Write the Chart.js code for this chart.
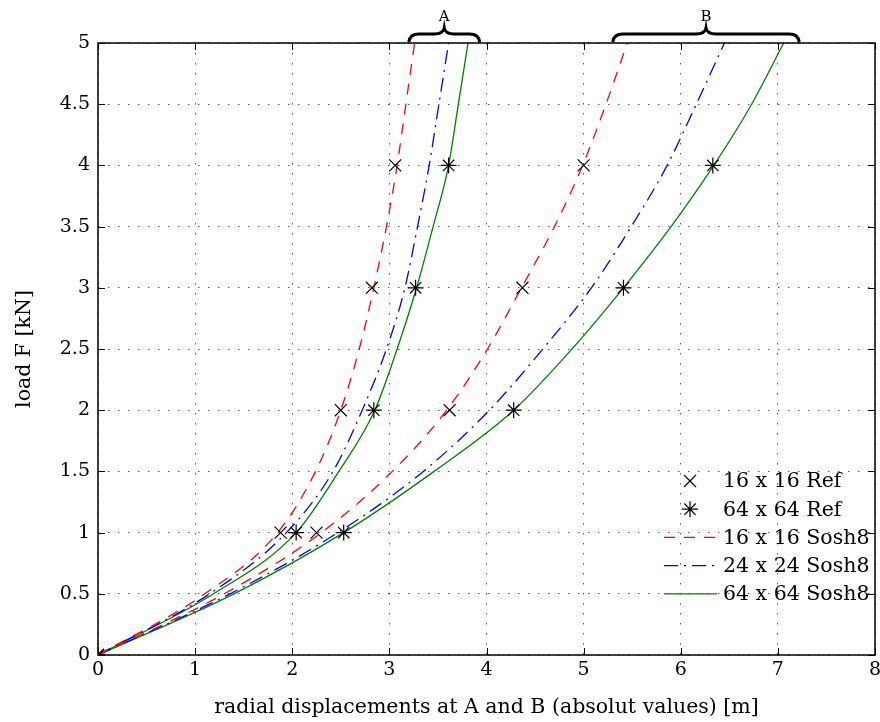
<!DOCTYPE html>
<html>
<head>
<meta charset="utf-8">
<script src="https://cdn.jsdelivr.net/npm/chart.js@4/dist/chart.umd.min.js"></script>
<style>
  html, body { margin: 0; padding: 0; background: #fff; }
</style>
</head>
<body>
<canvas id="myChart" width="880" height="722"></canvas>
<script>
// load steps [kN] of the Sosh8 runs and of the reference solutions
const loads = [0, 0.5, 1, 1.5, 2, 2.5, 3, 3.5, 4, 4.5, 5];
const refLoads = [0, 1, 2, 3, 4];

// radial displacements [m], point A (inner) and point B (outer)
const sosh16A = [0, 1.10, 1.85, 2.24, 2.50, 2.69, 2.84, 2.97, 3.08, 3.17, 3.26];
const sosh16B = [0, 1.30, 2.30, 3.03, 3.59, 4.01, 4.36, 4.70, 4.99, 5.23, 5.45];
const sosh24A = [0, 1.15, 1.94, 2.42, 2.72, 2.97, 3.16, 3.29, 3.41, 3.51, 3.61];
const sosh24B = [0, 1.36, 2.47, 3.35, 4.03, 4.58, 5.08, 5.49, 5.86, 6.16, 6.45];
const sosh64A = [0, 1.19, 2.04, 2.48, 2.85, 3.08, 3.28, 3.45, 3.61, 3.71, 3.81];
const sosh64B = [0, 1.40, 2.53, 3.46, 4.28, 4.88, 5.41, 5.90, 6.34, 6.73, 7.06];

const ref16A = [0, 1.88, 2.50, 2.82, 3.06];
const ref16B = [0, 2.25, 3.62, 4.37, 5.00];
const ref64A = [0, 2.04, 2.84, 3.27, 3.61];
const ref64B = [0, 2.53, 4.28, 5.41, 6.33];

const xTicks = [0, 1, 2, 3, 4, 5, 6, 7, 8];
const yTicks = [0, 0.5, 1, 1.5, 2, 2.5, 3, 3.5, 4, 4.5, 5];

// x-range covered by the braces over the plot
const braces = [
    { label: 'A', from: 3.20, to: 3.93 },
    { label: 'B', from: 5.30, to: 7.22 }
];

const serif = 'DejaVu Serif';

function pts(xs, ys) {
    return xs.map((x, i) => ({ x: x, y: ys[i] }));
}

function refSet(label, xs, style, radius) {
    return {
        label: label,
        data: pts(xs, refLoads),
        showLine: false,
        pointStyle: style,
        pointRadius: radius,
        pointHoverRadius: radius,
        pointBorderWidth: 1.2,
        borderColor: '#000',
        backgroundColor: 'rgba(0,0,0,0)'
    };
}

function soshSet(label, xs, color, dash) {
    return {
        label: label,
        data: pts(xs, loads),
        showLine: true,
        pointRadius: 0,
        borderColor: color,
        borderWidth: 1.3,
        borderDash: dash,
        cubicInterpolationMode: 'monotone',
        fill: false
    };
}

const red = '#ff0000', blue = '#0000ff', green = '#008000';
const dash16 = [11, 9];
const dash24 = [14, 6, 2, 6];

const legendItems = [
    { text: '16 x 16 Ref', marker: 'crossRot', radius: 8.5 },
    { text: '64 x 64 Ref', marker: 'star', radius: 8 },
    { text: '16 x 16 Sosh8', color: red, dash: dash16 },
    { text: '24 x 24 Sosh8', color: blue, dash: dash24 },
    { text: '64 x 64 Sosh8', color: green, dash: [] }
];

function drawBrace(ctx, x1, x2, yb) {
    const xm = (x1 + x2) / 2;
    const bar = yb - 8, tip = yb - 14, r = 10;
    ctx.beginPath();
    ctx.moveTo(x1, yb);
    ctx.quadraticCurveTo(x1 + 1, bar, x1 + r, bar);
    ctx.lineTo(xm - r, bar);
    ctx.quadraticCurveTo(xm - 1, bar, xm, tip);
    ctx.quadraticCurveTo(xm + 1, bar, xm + r, bar);
    ctx.lineTo(x2 - r, bar);
    ctx.quadraticCurveTo(x2 - 1, bar, x2, yb);
    ctx.stroke();
}

// box, inward ticks, braces and the legend
const decorations = {
    id: 'decorations',
    afterDraw(chart) {
        const ctx = chart.ctx;
        const a = chart.chartArea;
        const xs = chart.scales.x, ys = chart.scales.y;
        ctx.save();
        ctx.strokeStyle = '#000';
        ctx.lineWidth = 1;
        ctx.setLineDash([]);
        ctx.beginPath();
        xTicks.forEach(v => {
            const p = Math.round(xs.getPixelForValue(v)) + 0.5;
            ctx.moveTo(p, a.bottom); ctx.lineTo(p, a.bottom - 7);
            ctx.moveTo(p, a.top); ctx.lineTo(p, a.top + 7);
        });
        yTicks.forEach(v => {
            const p = Math.round(ys.getPixelForValue(v)) + 0.5;
            ctx.moveTo(a.left, p); ctx.lineTo(a.left + 7, p);
            ctx.moveTo(a.right, p); ctx.lineTo(a.right - 7, p);
        });
        ctx.stroke();
        ctx.lineWidth = 1.5;
        ctx.strokeRect(a.left, a.top, a.right - a.left, a.bottom - a.top);

        // braces A / B
        ctx.lineWidth = 3;
        ctx.font = '15px "' + serif + '"';
        ctx.fillStyle = '#000';
        ctx.textAlign = 'center';
        ctx.textBaseline = 'middle';
        braces.forEach(b => {
            const x1 = xs.getPixelForValue(b.from), x2 = xs.getPixelForValue(b.to);
            drawBrace(ctx, x1, x2, a.top - 1);
            ctx.fillText(b.label, (x1 + x2) / 2, a.top - 26);
        });

        // legend
        ctx.font = '20.5px "' + serif + '"';
        ctx.textAlign = 'left';
        legendItems.forEach((it, i) => {
            const y = a.bottom - 174 + i * 28.2;
            if (it.marker) {
                ctx.strokeStyle = '#000';
                ctx.fillStyle = 'rgba(0,0,0,0)';
                ctx.lineWidth = 1.2;
                Chart.helpers.drawPoint(ctx, { pointStyle: it.marker, radius: it.radius, rotation: 0, borderWidth: 1.2 }, a.right - 185, y);
            } else {
                ctx.strokeStyle = it.color;
                ctx.lineWidth = 1.3;
                ctx.setLineDash(it.dash);
                ctx.beginPath();
                ctx.moveTo(a.right - 211, y);
                ctx.lineTo(a.right - 158, y);
                ctx.stroke();
                ctx.setLineDash([]);
            }
            ctx.fillStyle = '#000';
            ctx.fillText(it.text, a.right - 152, y + 1);
        });
        ctx.restore();
    }
};

const tickFont = { family: serif, size: 19 };
const titleFont = { family: serif, size: 20.5 };

const ctx = document.getElementById('myChart').getContext('2d');
const myChart = new Chart(ctx, {
    type: 'scatter',
    data: {
        datasets: [
            refSet('16 x 16 Ref A', ref16A, 'crossRot', 8.5),
            refSet('16 x 16 Ref B', ref16B, 'crossRot', 8.5),
            refSet('64 x 64 Ref A', ref64A, 'star', 8),
            refSet('64 x 64 Ref B', ref64B, 'star', 8),
            soshSet('16 x 16 Sosh8 A', sosh16A, red, dash16),
            soshSet('16 x 16 Sosh8 B', sosh16B, red, dash16),
            soshSet('24 x 24 Sosh8 A', sosh24A, blue, dash24),
            soshSet('24 x 24 Sosh8 B', sosh24B, blue, dash24),
            soshSet('64 x 64 Sosh8 A', sosh64A, green, []),
            soshSet('64 x 64 Sosh8 B', sosh64B, green, [])
        ]
    },
    options: {
        responsive: false,
        animation: false,
        layout: { autoPadding: false, padding: { top: 43, right: 5, left: 0, bottom: 0 } },
        plugins: {
            legend: { display: false },
            tooltip: { enabled: false }
        },
        scales: {
            x: {
                type: 'linear',
                min: 0,
                max: 8,
                afterBuildTicks: s => { s.ticks = xTicks.map(v => ({ value: v })); },
                afterFit: s => { s.height = 67; s.paddingLeft = 0; s.paddingRight = 0; },
                ticks: { font: tickFont, color: '#000', padding: 4, maxRotation: 0, callback: v => String(v) },
                grid: { color: 'rgba(0,0,0,0.65)', lineWidth: 1, drawTicks: false },
                border: { display: false, dash: [1.5, 8.5] },
                title: {
                    display: true,
                    text: 'radial displacements at A and B (absolut values) [m]',
                    font: titleFont,
                    color: '#000',
                    padding: { top: 0, bottom: 2 }
                }
            },
            y: {
                type: 'linear',
                min: 0,
                max: 5,
                afterBuildTicks: s => { s.ticks = yTicks.map(v => ({ value: v })); },
                afterFit: s => { s.width = 98; s.paddingTop = 0; s.paddingBottom = 0; },
                ticks: { font: tickFont, color: '#000', padding: 8, callback: v => String(v) },
                grid: { color: 'rgba(0,0,0,0.65)', lineWidth: 1, drawTicks: false },
                border: { display: false, dash: [1.5, 8.5] },
                title: {
                    display: true,
                    text: 'load F [kN]',
                    font: titleFont,
                    color: '#000',
                    padding: { top: 12, bottom: 0 }
                }
            }
        }
    },
    plugins: [decorations]
});
</script>
</body>
</html>
